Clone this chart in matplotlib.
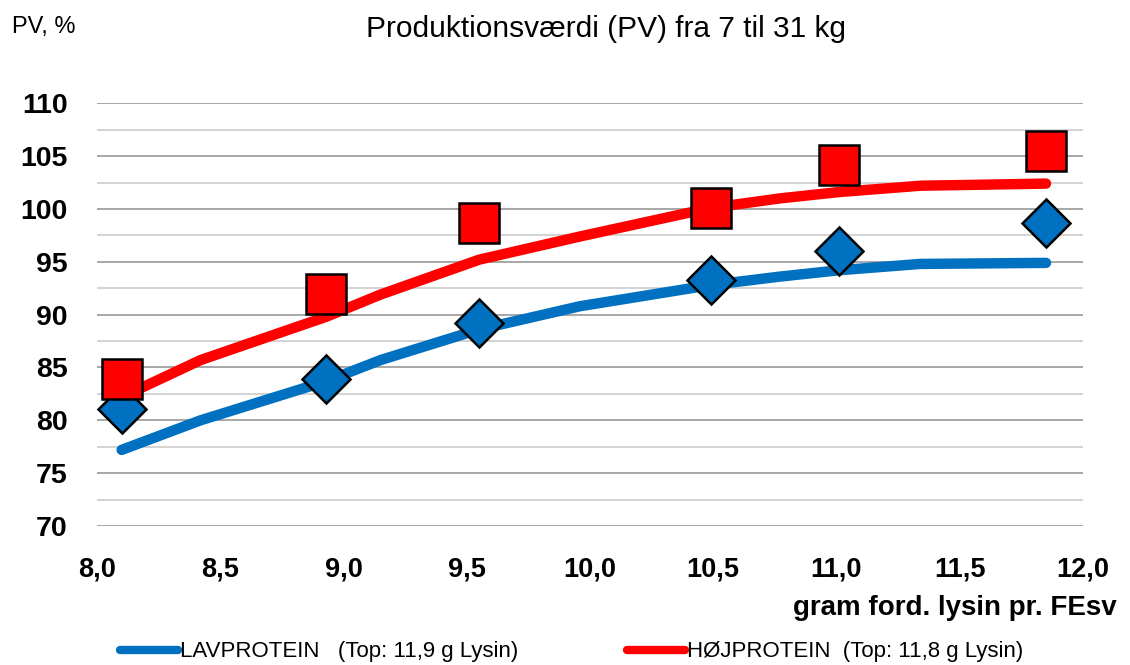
import matplotlib
matplotlib.use("Agg")
import matplotlib.pyplot as plt
from matplotlib.lines import Line2D
from matplotlib.ticker import MultipleLocator, FixedLocator

plt.rcParams['font.family'] = ['Liberation Sans', 'DejaVu Sans']

# Data
pts_x = [8.10, 8.93, 9.55, 10.49, 11.01, 11.85]
lav_pts = [81.1, 83.9, 89.2, 93.3, 96.0, 98.7]
hoj_pts = [83.9, 92.0, 98.7, 100.1, 104.2, 105.5]

curve_x = [8.10, 8.42, 8.93, 9.15, 9.55, 9.96, 10.49, 10.77, 11.01, 11.34, 11.85]
lav_curve = [77.2, 80.0, 83.7, 85.7, 88.6, 90.8, 92.8, 93.6, 94.2, 94.8, 94.9]
hoj_curve = [82.2, 85.7, 89.8, 91.9, 95.2, 97.4, 100.1, 101.0, 101.6, 102.2, 102.4]

x_ticks = [8.0, 8.5, 9.0, 9.5, 10.0, 10.5, 11.0, 11.5, 12.0]
x_ticklabels = ['8,0', '8,5', '9,0', '9,5', '10,0', '10,5', '11,0', '11,5', '12,0']
y_ticks = [70, 75, 80, 85, 90, 95, 100, 105, 110]

lav_label = 'LAVPROTEIN   (Top: 11,9 g Lysin)'
hoj_label = 'HØJPROTEIN  (Top: 11,8 g Lysin)'

BLUE = '#0070C0'
RED = '#FF0000'

fig = plt.figure(figsize=(11.3, 6.65), dpi=100)
ax = fig.add_axes([97/1130, 1-526/665, (1083-97)/1130, (526-103.3)/665])

ax.set_xlim(8.0, 12.0)
ax.set_ylim(70, 110)

ax.yaxis.set_major_locator(FixedLocator(y_ticks))
ax.yaxis.set_minor_locator(MultipleLocator(2.5))
ax.set_xticks(x_ticks)
ax.set_xticklabels(x_ticklabels)

ax.grid(axis='y', which='major', color='#A0A0A0', linewidth=1.3, zorder=0)
ax.grid(axis='y', which='minor', color='#D0D0D0', linewidth=1.3, zorder=0)
ax.set_axisbelow(True)
for s in ['top', 'right', 'left', 'bottom']:
    ax.spines[s].set_visible(False)
ax.tick_params(axis='both', which='both', length=0)
ax.tick_params(axis='y', pad=21, labelsize=20.5)
ax.tick_params(axis='x', pad=22, labelsize=19.5)
for lab in ax.get_xticklabels() + ax.get_yticklabels():
    lab.set_fontweight('bold')

ax.plot(curve_x, lav_curve, color=BLUE, lw=7.5, solid_capstyle='round', solid_joinstyle='round', zorder=3)
ax.plot(curve_x, hoj_curve, color=RED, lw=7.5, solid_capstyle='round', solid_joinstyle='round', zorder=3)

ax.plot(pts_x, lav_pts, linestyle='none', marker='D', ms=24, mfc=BLUE, mec='black', mew=1.8, zorder=4, clip_on=False)
ax.plot(pts_x, hoj_pts, linestyle='none', marker='s', ms=29.5, mfc=RED, mec='black', mew=1.8, zorder=5, clip_on=False)

fig.text(12/1130, 1-33/665, 'PV, %', fontsize=17, ha='left', va='baseline')
fig.text(605.5/1130, 1-37.3/665, 'Produktionsværdi (PV) fra 7 til 31 kg', fontsize=21.5, ha='center', va='baseline')
fig.text(1117/1130, 1-608/665, 'gram ford. lysin pr. FEsv', fontsize=20, fontweight='bold', ha='right', va='center')

handles = [Line2D([], [], color=BLUE, lw=6, solid_capstyle='round'),
           Line2D([], [], color=RED, lw=6, solid_capstyle='round')]
fig.legend(handles, [lav_label, hoj_label], loc='center', bbox_to_anchor=(572/1130, 1-652/665),
           ncol=2, frameon=False, fontsize=16, handlelength=2.6, handletextpad=0.1, columnspacing=4.9)

fig.savefig('out.png', dpi=100)
